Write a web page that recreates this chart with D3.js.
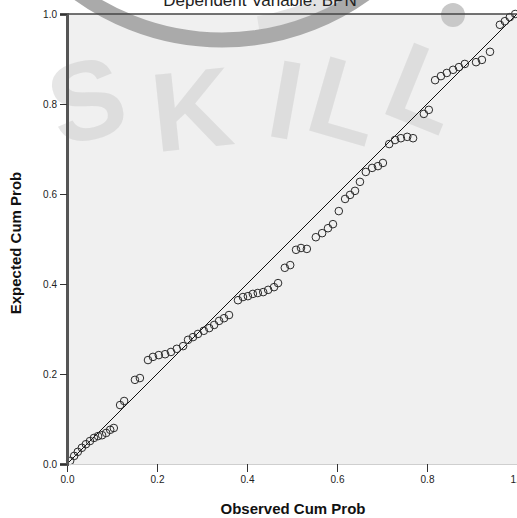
<!DOCTYPE html>
<html>
<head>
<meta charset="utf-8">
<script src="https://cdn.jsdelivr.net/npm/d3@7/dist/d3.min.js"></script>
<style>
  html, body { margin: 0; padding: 0; background: #fff; }
  svg { display: block; }
</style>
</head>
<body>
<svg id="chart" width="517" height="518"></svg>
<script>
// ---- Data ----
const titleText = "Dependent Variable: BPN";
const xTitle = "Observed Cum Prob";
const yTitle = "Expected Cum Prob";
const tickValues = [0, 0.2, 0.4, 0.6, 0.8, 1.0];
const watermarkLetters = ["S", "K", "I", "L", "L"];

const observed = [
  0.007, 0.016, 0.024, 0.033, 0.042, 0.051, 0.060, 0.069, 0.078, 0.087,
  0.096, 0.104, 0.118, 0.127, 0.151, 0.162, 0.180, 0.191, 0.204, 0.218,
  0.231, 0.244, 0.258, 0.269, 0.280, 0.291, 0.304, 0.316, 0.327, 0.338,
  0.349, 0.360, 0.380, 0.391, 0.402, 0.413, 0.424, 0.436, 0.447, 0.460,
  0.469, 0.484, 0.496, 0.509, 0.520, 0.533, 0.553, 0.567, 0.580, 0.591,
  0.604, 0.618, 0.629, 0.640, 0.651, 0.664, 0.678, 0.691, 0.702, 0.716,
  0.729, 0.742, 0.756, 0.769, 0.793, 0.804, 0.818, 0.831, 0.844, 0.858,
  0.871, 0.884, 0.909, 0.922, 0.940, 0.962, 0.973, 0.984, 0.996
];
const expected = [
  0.007, 0.018, 0.027, 0.036, 0.044, 0.051, 0.058, 0.062, 0.064, 0.069,
  0.076, 0.080, 0.131, 0.140, 0.187, 0.191, 0.231, 0.238, 0.242, 0.244,
  0.249, 0.256, 0.262, 0.276, 0.282, 0.289, 0.296, 0.302, 0.309, 0.318,
  0.324, 0.331, 0.364, 0.371, 0.373, 0.378, 0.380, 0.382, 0.387, 0.393,
  0.402, 0.436, 0.442, 0.476, 0.480, 0.478, 0.504, 0.513, 0.524, 0.533,
  0.562, 0.589, 0.598, 0.607, 0.627, 0.649, 0.658, 0.662, 0.669, 0.711,
  0.720, 0.724, 0.727, 0.724, 0.778, 0.787, 0.853, 0.862, 0.869, 0.876,
  0.882, 0.889, 0.893, 0.898, 0.916, 0.976, 0.984, 0.993, 1.000
];

const points = observed.map((o, i) => ({ o, e: expected[i] }));

// ---- Layout ----
const svg = d3.select("#chart");
const pLeft = 67, pRight = 517, pTop = 14, pBottom = 464;
const x = d3.scaleLinear().domain([0, 1]).range([pLeft, pRight]);
const y = d3.scaleLinear().domain([0, 1]).range([pBottom, pTop]);
const font = "Arial, 'Liberation Sans', Helvetica, sans-serif";

// plot background
svg.append("rect")
  .attr("x", pLeft).attr("y", pTop)
  .attr("width", pRight - pLeft).attr("height", pBottom - pTop)
  .attr("fill", "#f0f0f0");

// ---- Watermark ----
const wm = svg.append("g").attr("class", "watermark");
const cx = 222, cy = -205;
wm.append("path")
  .attr("d", d3.arc()({innerRadius: 224, outerRadius: 238, startAngle: Math.PI * 0.55, endAngle: Math.PI * 0.95}))
  .attr("transform", `translate(${cx},${cy})`)
  .attr("fill", "#e2e2e2");
wm.append("circle").attr("cx", cx).attr("cy", cy).attr("r", 245)
  .attr("fill", "none").attr("stroke", "#aaaaaa").attr("stroke-width", 15);
wm.append("circle").attr("cx", 453).attr("cy", 15).attr("r", 12).attr("fill", "#c8c8c8");

const letterPos = [
  { x: 96,  y: 138, r: -14 },
  { x: 196, y: 148, r: -6 },
  { x: 279, y: 138, r: 10 },
  { x: 335, y: 138, r: 16 },
  { x: 410, y: 124, r: 22 }
];
wm.selectAll("text.wl").data(watermarkLetters).join("text")
  .attr("class", "wl")
  .attr("transform", (d, i) => `translate(${letterPos[i].x},${letterPos[i].y}) rotate(${letterPos[i].r})`)
  .attr("text-anchor", "middle")
  .attr("font-family", font)
  .attr("font-weight", "bold")
  .attr("font-size", 112)
  .attr("fill", "#c4c4c4")
  .attr("fill-opacity", 0.42)
  .text(d => d);

// title (clipped at top, as in the reference)
svg.append("text")
  .attr("x", 260).attr("y", 6)
  .attr("text-anchor", "middle")
  .attr("font-family", font).attr("font-size", 17)
  .attr("fill", "#222")
  .text(titleText);

// reference diagonal
svg.append("line")
  .attr("x1", x(0)).attr("y1", y(0)).attr("x2", x(1)).attr("y2", y(1))
  .attr("stroke", "#111").attr("stroke-width", 1);

// points
svg.append("g").selectAll("circle").data(points).join("circle")
  .attr("cx", d => x(d.o)).attr("cy", d => y(d.e)).attr("r", 3.8)
  .attr("fill", "none").attr("stroke", "#2a2a2a").attr("stroke-width", 1);

// top frame line
svg.append("line")
  .attr("x1", 60).attr("x2", pRight).attr("y1", pTop).attr("y2", pTop)
  .attr("stroke", "#444").attr("stroke-width", 1.6);

// x axis
const xAxis = svg.append("g").attr("transform", `translate(0,${pBottom})`)
  .call(d3.axisBottom(x).tickValues(tickValues).tickFormat(d3.format(".1f")).tickSize(8).tickPadding(4));
xAxis.select(".domain").attr("stroke", "#cfcfcf").attr("stroke-width", 1);
xAxis.selectAll(".tick line").attr("stroke", "#333");
xAxis.selectAll("text").attr("font-family", font).attr("font-size", 10).attr("fill", "#222");

// y axis
const yAxis = svg.append("g").attr("transform", `translate(${pLeft},0)`)
  .call(d3.axisLeft(y).tickValues(tickValues).tickFormat(d3.format(".1f")).tickSize(7).tickPadding(3));
yAxis.select(".domain").attr("stroke", "#555").attr("stroke-width", 3);
yAxis.selectAll(".tick line").attr("stroke", "#333");
yAxis.selectAll("text").attr("font-family", font).attr("font-size", 10).attr("fill", "#222");

// axis titles
svg.append("text")
  .attr("x", 293).attr("y", 514)
  .attr("text-anchor", "middle")
  .attr("font-family", font).attr("font-size", 15).attr("font-weight", "bold")
  .attr("fill", "#111")
  .text(xTitle);
svg.append("text")
  .attr("transform", `translate(21,243) rotate(-90)`)
  .attr("text-anchor", "middle")
  .attr("font-family", font).attr("font-size", 15).attr("font-weight", "bold")
  .attr("fill", "#111")
  .text(yTitle);
</script>
</body>
</html>
